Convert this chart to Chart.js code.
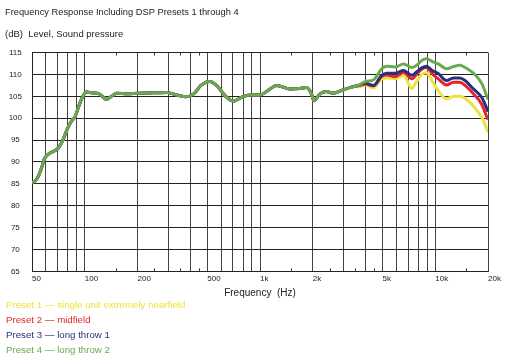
<!DOCTYPE html>
<html>
<head>
<meta charset="utf-8">
<script src="https://cdn.jsdelivr.net/npm/chart.js@4.4.0/dist/chart.umd.min.js"></script>
<style>
  body { margin: 0; background: #fff; }
  #wrap { position: relative; width: 508px; height: 360px; }
  #legend {
    position: absolute; left: 6px; top: 297px;
    font-family: "Liberation Sans", Arial, sans-serif;
    font-size: 9.7px; line-height: 15px;
  }
</style>
</head>
<body>
<div id="wrap">
  <canvas id="chart" width="508" height="360"></canvas>
  <div id="legend"></div>
</div>
<script>
// Frecuencias (Hz) comunes a todas las curvas
const lowFreq = [50, 53, 56, 59, 63, 67, 71, 75, 80, 85, 88, 92, 96, 102, 110, 120, 126, 133, 142, 152,
  175, 200, 250, 295, 335, 380, 420, 460, 517, 565, 645, 705, 806, 900, 1000, 1090, 1246, 1480, 1690,
  1840, 1965, 2030, 2190, 2390, 2610, 2950, 3250, 3500];
// Nivel (dB) por debajo de ~3.5 kHz, igual en los 4 presets
const lowLevel = [85.2, 86.0, 88.0, 90.8, 92.0, 92.5, 93.3, 95.0, 97.8, 99.6, 100.3, 102.5, 104.4, 106.0,
  105.8, 105.6, 105.0, 104.3, 105.0, 105.7, 105.6, 105.7, 105.8, 105.9, 105.3, 104.9, 105.6, 107.5,
  108.4, 107.5, 104.8, 103.9, 105.0, 105.3, 105.3, 106.1, 107.5, 106.7, 106.8, 107.0, 105.6, 104.0,
  105.5, 106.1, 105.7, 106.4, 107.0, 107.3];

const highFreq = [3700, 4000, 4450, 4950, 5300, 5900, 6600, 7350, 7850, 8380, 8900, 9600, 10400, 11600,
  12700, 13800, 14800, 16500, 18400, 19700, 20000];
const preset1High = [107.2, 107.6, 106.9, 109.0, 109.2, 109.0, 109.8, 106.8, 108.5, 110.0, 110.4, 108.5,
  106.3, 104.4, 105.0, 105.0, 104.5, 102.8, 100.2, 97.5, 96.8];
const preset2High = [107.5, 107.8, 107.4, 109.6, 109.9, 109.5, 110.5, 109.0, 110.1, 111.2, 111.6, 110.2,
  109.0, 107.6, 108.2, 108.2, 107.5, 105.6, 103.2, 100.3, 99.7];
const preset3High = [107.6, 108.0, 107.5, 109.8, 110.3, 110.3, 110.9, 109.8, 110.6, 111.5, 111.9, 110.9,
  110.2, 108.6, 109.2, 109.2, 108.6, 106.7, 104.8, 102.2, 101.5];
const preset4High = [107.6, 108.4, 108.8, 111.3, 111.9, 111.7, 112.4, 111.6, 112.1, 113.2, 113.6, 113.0,
  112.4, 111.3, 111.8, 112.1, 111.6, 110.3, 108.0, 105.0, 104.3];

const presetNames = ["Preset 1 — single unit extremely nearfield", "Preset 2 — midfield",
  "Preset 3 — long throw 1", "Preset 4 — long throw 2"];
const presetColors = ["#f0e23e", "#e2262d", "#2b2e7c", "#68a951"];

// Ejes
const xGridFreq = [50, 60, 70, 80, 90, 100, 200, 300, 400, 500, 600, 700, 800, 900, 1000,
  2000, 3000, 4000, 5000, 6000, 7000, 8000, 9000, 10000, 20000];
const xLabelFreq = [50, 100, 200, 500, 1000, 2000, 5000, 10000, 20000];
const xLabelText = ["50", "100", "200", "500", "1k", "2k", "5k", "10k", "20k"];
const xMinorFreq = [150, 250, 350, 450, 1500, 2500, 3500, 4500, 15000];

const allFreq = lowFreq.concat(highFreq);
const highSeries = [preset1High, preset2High, preset3High, preset4High];

const datasets = highSeries.map((high, i) => {
  const levels = lowLevel.concat(high);
  return {
    label: presetNames[i],
    data: allFreq.map((f, j) => ({ x: f, y: levels[j] })),
    borderColor: presetColors[i],
    borderWidth: 3,
    pointRadius: 0,
    cubicInterpolationMode: "monotone",
    order: 4 - i
  };
});

const minorTicksPlugin = {
  id: "minorTicks",
  beforeDatasetsDraw(chart) {
    const ctx = chart.ctx;
    const x = chart.scales.x;
    const area = chart.chartArea;
    ctx.save();
    ctx.strokeStyle = "#333";
    ctx.lineWidth = 1;
    xMinorFreq.forEach(f => {
      const px = Math.round(x.getPixelForValue(f)) + 0.5;
      ctx.beginPath();
      ctx.moveTo(px, area.bottom);
      ctx.lineTo(px, area.bottom - 3);
      ctx.moveTo(px, area.top);
      ctx.lineTo(px, area.top + 3);
      ctx.stroke();
    });
    ctx.restore();
  }
};

Chart.defaults.font.family = '"Liberation Sans", Arial, sans-serif';
Chart.defaults.color = "#222";

new Chart(document.getElementById("chart"), {
  type: "line",
  data: { datasets },
  options: {
    responsive: false,
    animation: false,
    layout: { padding: { left: 5, right: 20, top: 0, bottom: 61 } },
    plugins: {
      legend: { display: false },
      tooltip: { enabled: false },
      title: {
        display: true,
        text: "Frequency Response Including DSP Presets 1 through 4",
        align: "start",
        font: { size: 9.3, weight: "normal" },
        padding: { top: 7, bottom: 10 }
      },
      subtitle: {
        display: true,
        text: "(dB)  Level, Sound pressure",
        align: "start",
        font: { size: 9.5 },
        padding: { top: 1, bottom: 12 }
      }
    },
    scales: {
      x: {
        type: "logarithmic",
        min: 50,
        max: 20000,
        afterBuildTicks(scale) {
          scale.ticks = xGridFreq.map(v => ({ value: v }));
        },
        ticks: {
          autoSkip: false,
          maxRotation: 0,
          align: "start",
          padding: 3,
          font: { size: 8 },
          callback(value) {
            const k = xLabelFreq.indexOf(value);
            return k >= 0 ? xLabelText[k] : "";
          }
        },
        grid: { color: "#444", drawTicks: false },
        border: { color: "#222" },
        title: {
          display: true,
          text: "Frequency  (Hz)",
          font: { size: 10 },
          padding: { top: 0, bottom: 0 }
        }
      },
      y: {
        min: 65,
        max: 115,
        afterFit(scale) { scale.width = 27; },
        ticks: {
          stepSize: 5,
          crossAlign: "center",
          padding: 10,
          font: { size: 8 }
        },
        grid: { color: "#222", drawTicks: false },
        border: { color: "#222" }
      }
    }
  },
  plugins: [minorTicksPlugin]
});

// Leyenda como texto de color, una línea por preset
const legendDiv = document.getElementById("legend");
presetNames.forEach((name, i) => {
  const d = document.createElement("div");
  d.textContent = name;
  d.style.color = presetColors[i];
  legendDiv.appendChild(d);
});
</script>
</body>
</html>
